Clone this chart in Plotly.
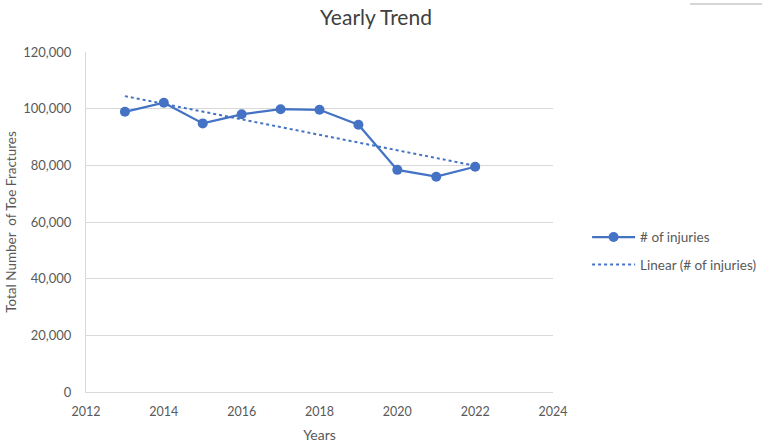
import plotly.graph_objects as go
import numpy as np

years = [2013, 2014, 2015, 2016, 2017, 2018, 2019, 2020, 2021, 2022]
injuries = [98900, 102100, 94800, 98000, 99800, 99600, 94300, 78400, 76000, 79500]
y_ticks = [0, 20000, 40000, 60000, 80000, 100000, 120000]
x_ticks = [2012, 2014, 2016, 2018, 2020, 2022, 2024]

slope, intercept = np.polyfit(years, injuries, 1)
trend = [slope * x + intercept for x in years]

BLUE = "#4472C4"
GRAY = "#595959"
GRID = "#d9d9d9"
FONT = "Lato, Carlito, 'Open Sans', sans-serif"

fig = go.Figure()
fig.add_trace(go.Scatter(
    x=years, y=injuries, mode="lines+markers", name="# of injuries",
    line=dict(color=BLUE, width=2.25), marker=dict(color=BLUE, size=10),
    legendgroup="a",
))
fig.add_trace(go.Scatter(
    x=years, y=trend, mode="lines", name="Linear (# of injuries)",
    line=dict(color=BLUE, width=2, dash="dot"),
    legendgroup="b",
))

fig.update_layout(
    width=764, height=443,
    margin=dict(l=86, r=211, t=52, b=51, autoexpand=False),
    paper_bgcolor="white", plot_bgcolor="white",
    font=dict(family=FONT, color=GRAY, size=13),
    title=dict(text="Yearly Trend", x=376 / 764, xanchor="center", y=0.96, yanchor="middle",
               font=dict(size=21, color="#404040", family=FONT)),
    showlegend=True,
    legend=dict(x=1.073, xanchor="left", y=0.414, yanchor="middle",
                font=dict(size=13.5, color=GRAY, family=FONT), itemwidth=43,
                tracegroupgap=7, bgcolor="rgba(0,0,0,0)"),
    xaxis=dict(range=[2012, 2024], tickvals=x_ticks, ticktext=[str(v) for v in x_ticks],
               showgrid=False, showline=True, linecolor=GRID, linewidth=1,
               zeroline=False, ticks="", ticklabelstandoff=8, automargin=False,
               title=dict(text="Years", font=dict(size=14, color=GRAY), standoff=12),
               tickfont=dict(size=12.5, color=GRAY)),
    yaxis=dict(range=[0, 120000], tickvals=y_ticks, tickformat=",",
               showgrid=True, gridcolor=GRID, gridwidth=1,
               showline=True, linecolor=GRID, linewidth=1, zeroline=False,
               ticks="", ticklabelstandoff=11, automargin=False,
               title=dict(text="Total Number  of Toe Fractures", font=dict(size=13.5, color=GRAY), standoff=3),
               tickfont=dict(size=13, color=GRAY)),
    shapes=[dict(type="line", xref="paper", yref="paper",
                 x0=(690 - 86) / 467, x1=(762 - 86) / 467,
                 y0=(392 - 4) / 340, y1=(392 - 4) / 340,
                 line=dict(color="#c8c8c8", width=1.5))],
)

fig.write_html("out.html", config={"displayModeBar": False},
               post_script="document.body.style.margin='0';")
